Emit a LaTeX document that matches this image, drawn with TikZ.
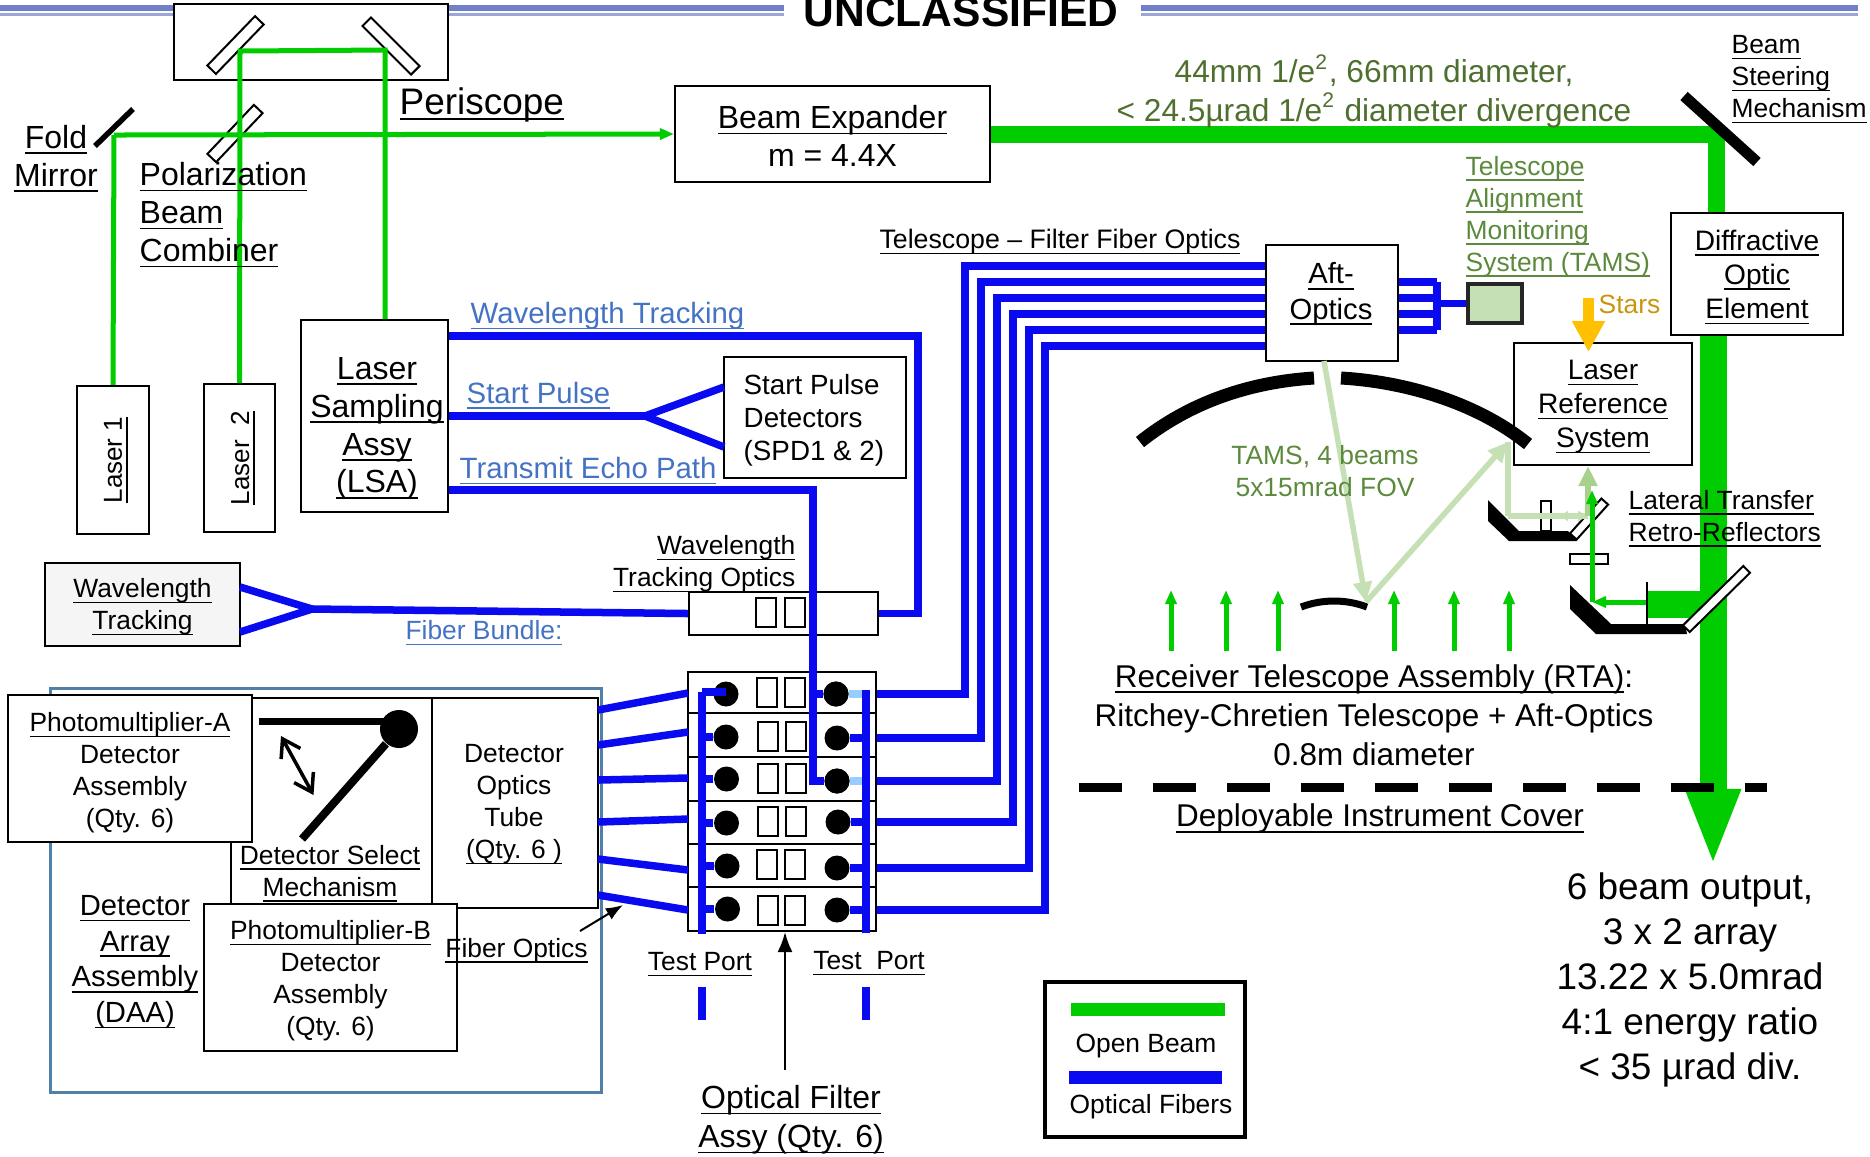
\documentclass[tikz,border=0pt]{standalone}
\usepackage{fontspec}
\setmainfont{Liberation Sans}
\usetikzlibrary{arrows.meta}
\newcommand{\uline}[1]{\underline{\smash{#1}}\vphantom{#1}}
\definecolor{fiberblue}{HTML}{0A0AF0}
\definecolor{palefiber}{HTML}{99CCFF}
\definecolor{beamgreen}{HTML}{00CC00}
\definecolor{tamsgreen}{HTML}{C5E0B4}
\definecolor{tamsdark}{HTML}{A9D18E}
\definecolor{labelblue}{HTML}{4472C4}
\definecolor{specgreen}{HTML}{4F6F2F}
\definecolor{tamstext}{HTML}{5B8A3C}
\definecolor{starorange}{HTML}{FFC000}
\definecolor{startext}{HTML}{C8960A}
\definecolor{daablue}{HTML}{5080A8}
\definecolor{headblue}{HTML}{6F7FC8}

\begin{document}
\begin{tikzpicture}[
    x=0.01cm, y=-0.01cm,
    box/.style={
      draw,
      line width=0.02cm,
      fill=white,
      inner sep=0pt,
      align=center
    },
    slot/.style={box, minimum width=0.2cm, minimum height=0.29cm},
    mirror/.style={box, minimum height=0.12cm},
    dot/.style={circle, fill=black, inner sep=0pt, minimum size=0.25cm},
    txt/.style={inner sep=0pt, align=center},
    smalltxt/.style={txt, font=\fontsize{7.5}{9.1}\selectfont},
    midtxt/.style={txt, font=\fontsize{8}{9.7}\selectfont},
    bigtxt/.style={txt, font=\fontsize{9.1}{10.8}\selectfont},
    hugetxt/.style={txt, font=\fontsize{10.5}{12.8}\selectfont},
    bluetxt/.style={txt, font=\fontsize{8.35}{10}\selectfont, text=labelblue, anchor=west},
    fiber/.style={draw=fiberblue, line width=0.075cm},
    beam/.style={draw=beamgreen, line width=0.05cm},
    bigbeam/.style={draw=beamgreen, line width=0.27cm},
    tamsbeam/.style={draw=tamsgreen, line width=0.055cm},
    thinbeamtip/.style={-{Triangle[length=0.14cm,width=0.11cm]}},
    tamstip/.style={-{Triangle[length=0.2cm,width=0.18cm]}}
  ]
    \useasboundingbox (0,0) rectangle (1870,1156);

    % header rules
    \fill[headblue] (0,5) rectangle (174,11);
    \fill[headblue] (448,5) rectangle (784,11);
    \fill[headblue] (1141,5) rectangle (1858,11);
    \fill[headblue!70] (0,13) rectangle (174,16);
    \fill[headblue!70] (448,13) rectangle (784,16);
    \fill[headblue!70] (1141,13) rectangle (1858,16);

    % boxes
    \node[box, minimum width=2.74cm, minimum height=0.76cm] (periscope) at (311,42) {};
    \node[box, minimum width=3.15cm, minimum height=0.96cm] (expander) at (832.5,134) {};
    \node[box, minimum width=0.72cm, minimum height=1.48cm] (laser1) at (113,460) {};
    \node[box, minimum width=0.71cm, minimum height=1.48cm] (laser2) at (239.5,458) {};
    \node[box, minimum width=1.47cm, minimum height=1.92cm] (lsa) at (374.5,416) {};
    \node[box, minimum width=1.82cm, minimum height=1.21cm] (spd) at (815,417.5) {};
    \node[box, fill=black!4, minimum width=1.95cm, minimum height=0.83cm] (wavebox) at (142.5,604.5) {};
    \node[box, minimum width=1.89cm, minimum height=0.43cm] (waveoptics) at (783.5,613.5) {};
    \node[slot] (waveslota) at (766,612.5) {};
    \node[slot] (waveslotb) at (794.5,612.5) {};

    \node[box, draw=daablue, line width=0.03cm, fill=none, minimum width=5.5cm, minimum height=4.03cm] (daa) at (326,890.5) {};
    \node[box, minimum width=2.01cm, minimum height=2.07cm] (selectbox) at (331.5,801.5) {};
    \node[box, minimum width=2.44cm, minimum height=1.47cm] (pma) at (130,768.5) {};
    \node[box, minimum width=1.66cm, minimum height=2.10cm] (tube) at (515,803) {};
    \node[box, minimum width=2.53cm, minimum height=1.47cm] (pmb) at (330.5,977.5) {};

    \node[box, minimum width=1.88cm, minimum height=0.41cm] (filter1) at (782,692.5) {};
    \node[box, minimum width=1.88cm, minimum height=0.44cm] (filter2) at (782,735) {};
    \node[box, minimum width=1.88cm, minimum height=0.44cm] (filter3) at (782,779) {};
    \node[box, minimum width=1.88cm, minimum height=0.43cm] (filter4) at (782,822.5) {};
    \node[box, minimum width=1.88cm, minimum height=0.43cm] (filter5) at (782,865.5) {};
    \node[box, minimum width=1.88cm, minimum height=0.44cm] (filter6) at (782,909) {};

    \node[slot] (slota1) at (767,692.5) {};
    \node[slot] (slotb1) at (795,692.5) {};
    \node[slot] (slota2) at (767.5,736.5) {};
    \node[slot] (slotb2) at (796,736.5) {};
    \node[slot] (slota3) at (768,778) {};
    \node[slot] (slotb3) at (796,778) {};
    \node[slot] (slota4) at (768,821) {};
    \node[slot] (slotb4) at (796,821) {};
    \node[slot] (slota5) at (767,864) {};
    \node[slot] (slotb5) at (795,864) {};
    \node[slot] (slota6) at (768,910) {};
    \node[slot] (slotb6) at (795,910) {};

    \node[dot] (dotl1) at (726,694) {};
    \node[dot] (dotl2) at (726,737) {};
    \node[dot] (dotl3) at (726.5,779) {};
    \node[dot] (dotl4) at (726.5,823) {};
    \node[dot] (dotl5) at (727,866) {};
    \node[dot] (dotl6) at (727.5,909) {};
    \node[dot] (dotr1) at (836,694) {};
    \node[dot] (dotr2) at (837,738) {};
    \node[dot] (dotr3) at (837,781) {};
    \node[dot] (dotr4) at (838,822) {};
    \node[dot] (dotr5) at (837,868) {};
    \node[dot] (dotr6) at (837,910) {};

    \node[box, minimum width=1.32cm, minimum height=1.16cm] (aft) at (1332,303) {};
    \node[box, line width=0.04cm, draw=black!85, fill=tamsgreen, minimum width=0.54cm, minimum height=0.39cm] (tams) at (1495,303.5) {};
    \node[box, minimum width=1.72cm, minimum height=1.22cm] (doe) at (1757,274) {};
    \node[box, minimum width=1.775cm, minimum height=1.22cm] (lrs) at (1603,404) {};

    % open beam
    \coordinate (foldpoint) at (114,135);
    \coordinate (peria) at (240,51);
    \coordinate (perib) at (385,50);
    \coordinate (steer) at (1716,134);
    \draw[beam] (laser1.north) -- (foldpoint);
    \draw[bigbeam, line width=0.17cm] (expander.east) -- (steer) -- (steer |- doe.north);
    \coordinate (retroin) at (1648,604);
    \coordinate (bigtip) at (1713,866);
    \draw[bigbeam, -{Triangle[length=0.77cm,width=0.5cm]}] (bigtip |- doe.south) -- (bigtip);
    \draw[bigbeam] (retroin) -- (retroin -| bigtip);

    % mirrors
    \node[mirror, rotate=46, minimum width=0.686cm] (periscopea) at (235.5,45) {};
    \node[mirror, rotate=-45, minimum width=0.687cm] (periscopeb) at (391,46) {};
    \node[mirror, rotate=46.5, minimum width=0.675cm] (combiner) at (235,133.5) {};
    \draw[beam] (laser2.north) -- (peria) -- (perib) -- (perib |- lsa.north);
    \draw[beam, thinbeamtip] (foldpoint) -- (expander.west);
    \coordinate (folda) at (95,146);
    \coordinate (foldb) at (133,109);
    \draw[line width=0.055cm] (folda) -- (foldb);
    \coordinate (steera) at (1684,96);
    \coordinate (steerb) at (1757,162);
    \draw[line width=0.11cm] (steera) -- (steerb);

    % fibers
    \coordinate (echodown) at (813,490);
    \coordinate (trackdown) at (918,336);
    \coordinate (splitpulse) at (645,416);
    \coordinate (splitwave) at (312,609);
    \coordinate (pulsea) at (724,387);
    \coordinate (pulseb) at (724,447);
    \coordinate (wavea) at (240,587);
    \coordinate (waveb) at (240,632);
    \draw[fiber] (lsa.east |- trackdown) -- (trackdown) |- (waveoptics.east);
    \draw[fiber] (lsa.east |- splitpulse) -- (splitpulse);
    \draw[fiber] (pulsea) -- (splitpulse) -- (pulseb);
    \draw[fiber] (lsa.east |- echodown) -- (echodown) |- (dotr3);
    \draw[fiber] (echodown |- dotr1) -- (dotr1);
    \draw[fiber] (wavea) -- (splitwave) -- (waveb);
    \draw[fiber] (splitwave) -- (waveoptics.west);

    \coordinate (t1) at (598,710);
    \coordinate (t2) at (598,745);
    \coordinate (t3) at (598,780);
    \coordinate (t4) at (598,822);
    \coordinate (t5) at (598,859);
    \coordinate (t6) at (598,895);
    \coordinate (f1) at (688,693);
    \coordinate (f2) at (688,732);
    \coordinate (f3) at (688,778);
    \coordinate (f4) at (688,819);
    \coordinate (f5) at (688,870);
    \coordinate (f6) at (688,910);
    \draw[fiber] (t1) -- (f1);
    \draw[fiber] (t2) -- (f2);
    \draw[fiber] (t3) -- (f3);
    \draw[fiber] (t4) -- (f4);
    \draw[fiber] (t5) -- (f5);
    \draw[fiber] (t6) -- (f6);

    \coordinate (testla) at (702,692);
    \coordinate (testlb) at (702,934);
    \coordinate (testra) at (866,690);
    \coordinate (testrb) at (866,933);
    \coordinate (portla) at (702,987);
    \coordinate (portlb) at (702,1020);
    \coordinate (portra) at (866,987);
    \coordinate (portrb) at (866,1020);
    \draw[fiber] (testla) -- (testla -| dotl1);
    \draw[fiber] (dotl2 -| testla) -- (dotl2);
    \draw[fiber] (dotl3 -| testla) -- (dotl3);
    \draw[fiber] (dotl4 -| testla) -- (dotl4);
    \draw[fiber] (dotl5 -| testla) -- (dotl5);
    \draw[fiber] (dotl6 -| testla) -- (dotl6);
    \draw[fiber, draw=palefiber] (dotr1) -- (dotr1 -| testra);
    \draw[fiber] (dotr2) -- (dotr2 -| testra);
    \draw[fiber, draw=palefiber] (dotr3) -- (dotr3 -| testra);
    \draw[fiber] (dotr4) -- (dotr4 -| testra);
    \draw[fiber] (dotr5) -- (dotr5 -| testra);
    \draw[fiber] (dotr6) -- (dotr6 -| testra);
    \node[dot] (dotrtop) at (dotr1) {};
    \node[dot] (dotrmid) at (dotr3) {};
    \draw[fiber] (testla) -- (testlb);
    \draw[fiber] (testra) -- (testrb);
    \draw[fiber] (portla) -- (portlb);
    \draw[fiber] (portra) -- (portrb);

    \coordinate (a1) at (965,266);
    \coordinate (a2) at (981,282);
    \coordinate (a3) at (997,298);
    \coordinate (a4) at (1013,314);
    \coordinate (a5) at (1029,330);
    \coordinate (a6) at (1045,346);
    \draw[fiber] (dotr1 -| filter1.east) -| (a1) -- (a1 -| aft.west);
    \draw[fiber] (dotr2 -| filter2.east) -| (a2) -- (a2 -| aft.west);
    \draw[fiber] (dotr3 -| filter3.east) -| (a3) -- (a3 -| aft.west);
    \draw[fiber] (dotr4 -| filter4.east) -| (a4) -- (a4 -| aft.west);
    \draw[fiber] (dotr5 -| filter5.east) -| (a5) -- (a5 -| aft.west);
    \draw[fiber] (dotr6 -| filter6.east) -| (a6) -- (a6 -| aft.west);

    \coordinate (tamsbus) at (1437,303.5);
    \draw[fiber] (a2 -| aft.east) -- (a2 -| tamsbus);
    \draw[fiber] (a3 -| aft.east) -- (a3 -| tamsbus);
    \draw[fiber] (a4 -| aft.east) -- (a4 -| tamsbus);
    \draw[fiber] (a5 -| aft.east) -- (a5 -| tamsbus);
    \draw[fiber] (tamsbus |- a2) -- (tamsbus |- a5);
    \draw[fiber] (tamsbus) -- (tams.west);

    % telescope
    \draw[line width=0.13cm] (1140,442) .. controls (1190,402) and (1250,382) .. (1314,378);
    \draw[line width=0.13cm] (1341,378) .. controls (1410,382) and (1480,405) .. (1528,444);
    \draw[line width=0.07cm] (1301,607) .. controls (1322,599) and (1346,599) .. (1367,607);

    \coordinate (tamsout) at (1324,361);
    \coordinate (tamsbounce) at (1366,602);
    \coordinate (tamscorner) at (1508,442);
    \coordinate (tamslow) at (1508,516);
    \coordinate (tamsmid) at (1560,516);
    \coordinate (tamsup) at (1588,516);
    \draw[tamsbeam, tamstip] (tamsout) -- (tamsbounce);
    \draw[tamsbeam, tamstip] (tamsbounce) -- (tamscorner);
    \draw[tamsbeam] (tamscorner) -- (tamslow);

    \fill (1488,500) -- (1488,521) -- (1509,541) -- (1577,541) -- (1568,531) -- (1519,531) -- cycle;
    \fill (1570,585) -- (1570,609) -- (1596,634) -- (1687,634) -- (1685,624) -- (1611,624) -- cycle;
    \node[box, minimum width=0.1cm, minimum height=0.3cm] (retrostop) at (1546,516) {};
    \node[mirror, rotate=48, minimum width=0.47cm, minimum height=0.09cm] (retromirrora) at (1589,519) {};
    \draw[tamsbeam, -{Triangle[length=0.1cm,width=0.1cm]}] (tamslow) -- (tamsup);
    \draw[tamsbeam, -{Triangle[length=0.08cm,width=0.1cm]}] (tamsup) -- (tamsmid);
    \node[mirror, rotate=44.5, minimum width=0.845cm, minimum height=0.095cm] (retromirrorb) at (1716.5,599) {};
    \node[box, minimum width=0.38cm, minimum height=0.1cm] (retroplate) at (1589,559) {};
    \draw[tamsbeam, draw=tamsdark, tamstip] (tamsup) -- (tamsup |- lrs.south);
    \coordinate (lrsin) at (1592,602);
    \coordinate (lrstip) at (1592,490);
    \draw[beam, thinbeamtip] (lrsin) -- (lrstip);
    \draw[beam, thinbeamtip] (retroin |- lrsin) -- (lrsin);
    \coordinate (stopa) at (1647,582);
    \coordinate (stopb) at (1647,625);
    \draw[line width=0.02cm] (stopa) -- (stopb);

    \draw[beam, thinbeamtip] (1171,651) -- (1171,590);
    \draw[beam, thinbeamtip] (1226,651) -- (1226,590);
    \draw[beam, thinbeamtip] (1278,651) -- (1278,590);
    \draw[beam, thinbeamtip] (1394,651) -- (1394,590);
    \draw[beam, thinbeamtip] (1454,651) -- (1454,590);
    \draw[beam, thinbeamtip] (1509,651) -- (1509,590);

    \coordinate (starsa) at (1588.5,298);
    \coordinate (starsb) at (1588.5,352);
    \draw[draw=starorange, line width=0.105cm, -{Triangle[length=0.31cm,width=0.31cm]}] (starsa) -- (starsb);

    \coordinate (covera) at (1079,787);
    \coordinate (coverb) at (1767,787);
    \draw[line width=0.09cm, dash pattern=on 0.43cm off 0.31cm] (covera) -- (coverb);

    % mechanism
    \coordinate (armtop) at (259,721);
    \coordinate (armlow) at (302,839);
    \coordinate (swinga) at (281,736);
    \coordinate (swingb) at (313.5,795);
    \node[dot, minimum size=0.38cm] (pivot) at (399,729) {};
    \draw[line width=0.07cm] (armtop) -- (armtop -| pivot);
    \draw[line width=0.08cm] (pivot) -- (armlow);
    \draw[line width=0.035cm, {Straight Barb[length=0.17cm,width=0.22cm]}-{Straight Barb[length=0.17cm,width=0.22cm]}] (swinga) -- (swingb);

    % labels
    \node[txt, font=\bfseries\fontsize{12.1}{14}\selectfont] (classif) at (961,12) {UNCLASSIFIED};
    \node[hugetxt, anchor=west] (periscopelbl) at (399,104.5) {\uline{Periscope}};
    \node[bigtxt] (expanderlbl) at (832.5,136) {\uline{Beam Expander}\\m = 4.4X};
    \node[bigtxt] (foldlbl) at (56,159) {\uline{Fold}\\\uline{Mirror}};
    \node[bigtxt, anchor=west, align=left] (combinerlbl) at (139,215.5) {\uline{Polarization}\\\uline{Beam}\\\uline{Combiner}};
    \node[bigtxt] (lsalbl) at (377,428.5) {\uline{Laser}\\\uline{Sampling}\\\uline{Assy}\\\uline{(LSA)}};
    \node[txt, rotate=90, font=\fontsize{7.4}{9}\selectfont] (laserlbla) at (116.5,460) {\uline{Laser 1}};
    \node[txt, rotate=90, font=\fontsize{7.4}{9}\selectfont] (laserlblb) at (243.5,458) {\uline{Laser\ \ 2}};
    \node[smalltxt] (wavelbl) at (142.5,607.5) {\uline{Wavelength}\\\uline{Tracking}};
    \node[bluetxt] (tracklbl) at (470,316.5) {\uline{Wavelength Tracking}};
    \node[bluetxt] (pulselbl) at (466,396) {\uline{Start Pulse}};
    \node[bluetxt] (echolbl) at (459,471.5) {\uline{Transmit Echo Path}};
    \node[txt, font=\fontsize{7.9}{9.4}\selectfont, anchor=west, align=left] (spdlbl) at (743,420.5) {Start Pulse\\Detectors\\(SPD1 \& 2)};
    \node[smalltxt, anchor=east, align=right] (opticslbl) at (796,564.5) {\uline{Wavelength}\\\uline{Tracking Optics}};
    \node[smalltxt, text=labelblue] (bundlelbl) at (484,633.5) {\uline{Fiber Bundle:}};
    \node[smalltxt] (pmalbl) at (130,772.5) {\uline{Photomultiplier-A}\\Detector\\Assembly\\(Qty. 6)};
    \node[smalltxt] (selectlbl) at (330,874) {\uline{Detector Select}\\\uline{Mechanism}};
    \node[smalltxt] (pmblbl) at (330.5,980.5) {\uline{Photomultiplier-B}\\Detector\\Assembly\\(Qty. 6)};
    \node[smalltxt] (tubelbl) at (514,805) {Detector\\Optics\\Tube\\\uline{(Qty. 6 )}};
    \node[txt, font=\fontsize{8.3}{10.15}\selectfont] (daalbl) at (135,962.5) {\uline{Detector}\\\uline{Array}\\\uline{Assembly}\\\uline{(DAA)}};
    \node[smalltxt] (fiberslbl) at (516.5,951) {\uline{Fiber Optics}};
    \coordinate (fiberstail) at (580,931);
    \coordinate (fiberstip) at (623,905);
    \draw[line width=0.02cm, -{Latex[length=0.17cm,width=0.13cm]}] (fiberstail) -- (fiberstip);
    \node[smalltxt] (testlbla) at (700,965) {\uline{Test Port}};
    \node[smalltxt] (testlblb) at (869,964) {\uline{Test\ \ Port}};
    \node[txt, font=\fontsize{9.1}{11.1}\selectfont] (filterlbl) at (791,1120) {\uline{Optical Filter}\\\uline{Assy (Qty. 6)}};
    \coordinate (filtertail) at (785,1070);
    \draw[line width=0.02cm, -{Latex[length=0.2cm,width=0.15cm]}] (filtertail) -- (filter6.south -| filtertail);
    \node[txt, font=\fontsize{7.6}{9.1}\selectfont] (linklbl) at (1060,242.5) {\uline{Telescope – Filter Fiber Optics}};
    \node[txt, font=\fontsize{9}{11}\selectfont, text=specgreen] (speclbl) at (1374,91) {44mm 1/e\textsuperscript{2}, 66mm diameter,\\< 24.5µrad 1/e\textsuperscript{2} diameter divergence};
    \node[smalltxt, anchor=west, align=left] (steerlbl) at (1731,80) {\uline{Beam}\\\uline{Steering}\\\uline{Mechanism}};
    \node[smalltxt, text=tamstext, anchor=west, align=left] (tamslbl) at (1465,217) {\uline{Telescope}\\\uline{Alignment}\\\uline{Monitoring}\\\uline{System (TAMS)}};
    \node[smalltxt, text=startext, anchor=west] (starslbl) at (1598,304) {Stars};
    \node[smalltxt, text=tamstext] (fovlbl) at (1325,471) {TAMS, 4 beams\\5x15mrad FOV};
    \node[smalltxt, anchor=west, align=left] (retrolbl) at (1628,519) {\uline{Lateral Transfer}\\\uline{Retro-Reflectors}};
    \node[txt, font=\fontsize{8.3}{10}\selectfont] (aftlbl) at (1331,294.5) {\uline{Aft-}\\\uline{Optics}};
    \node[midtxt] (doelbl) at (1757,277.5) {\uline{Diffractive}\\\uline{Optic}\\\uline{Element}};
    \node[midtxt] (lrslbl) at (1603,407.5) {\uline{Laser}\\\uline{Reference}\\\uline{System}};
    \node[txt, font=\fontsize{8.95}{11.1}\selectfont] (rtalbl) at (1374,715) {\uline{Receiver Telescope Assembly (RTA)}:\\Ritchey-Chretien Telescope + Aft-Optics\\0.8m diameter};
    \node[txt, font=\fontsize{8.95}{11.1}\selectfont] (coverlbl) at (1380,819) {\uline{Deployable Instrument Cover}};
    \node[hugetxt] (outputlbl) at (1690,979.5) {6 beam output,\\3 x 2 array\\13.22 x 5.0mrad\\4:1 energy ratio\\< 35 µrad div.};

    % legend
    \coordinate (legopena) at (1071,1009);
    \coordinate (legopenb) at (1225,1009);
    \coordinate (legfibera) at (1069,1077);
    \coordinate (legfiberb) at (1222,1077);
    \node[box, line width=0.035cm, fill=none, minimum width=2cm, minimum height=1.55cm] (legend) at (1145,1059.5) {};
    \draw[bigbeam, line width=0.13cm] (legopena) -- (legopenb);
    \draw[fiber, line width=0.13cm] (legfibera) -- (legfiberb);
    \node[smalltxt] (openlbl) at (1146,1045.5) {Open Beam};
    \node[smalltxt] (fiberlegend) at (1151,1106.5) {Optical Fibers};
  \end{tikzpicture}
\end{document}
